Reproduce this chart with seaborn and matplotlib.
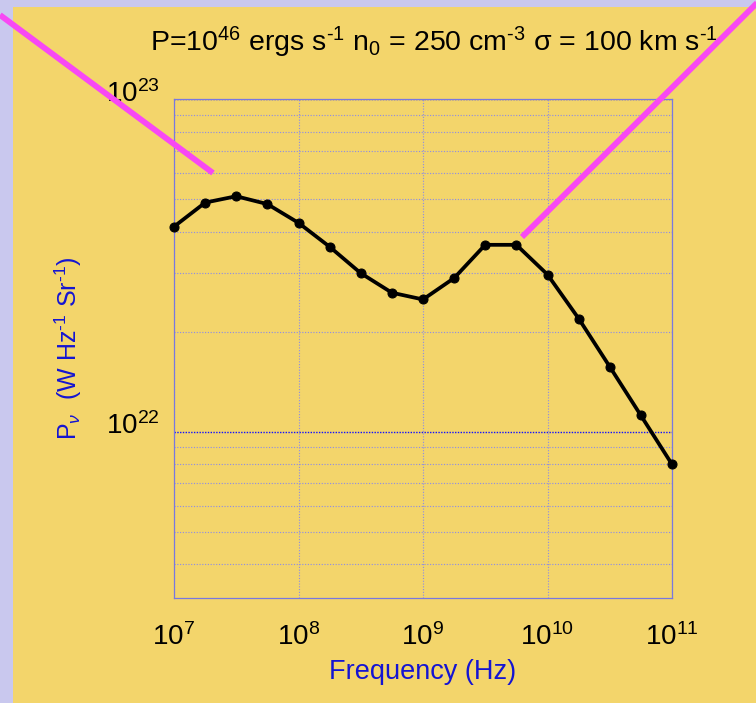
import numpy as np
import pandas as pd
import matplotlib
matplotlib.use("Agg")
import matplotlib.pyplot as plt
import seaborn as sns
from matplotlib.lines import Line2D
from matplotlib.patches import Rectangle
from matplotlib.ticker import LogLocator, FixedLocator, NullFormatter
from matplotlib.transforms import ScaledTranslation

# ---- data ----
freq_hz = [1.0e7, 1.78e7, 3.16e7, 5.62e7, 1.0e8, 1.78e8, 3.16e8, 5.62e8, 1.0e9,
           1.78e9, 3.16e9, 5.62e9, 1.0e10, 1.78e10, 3.16e10, 5.62e10, 1.0e11]
power = [4.14e22, 4.89e22, 5.11e22, 4.84e22, 4.25e22, 3.60e22, 3.00e22, 2.62e22, 2.50e22,
         2.90e22, 3.65e22, 3.65e22, 2.97e22, 2.19e22, 1.57e22, 1.12e22, 7.98e21]
x_ticks = [1e7, 1e8, 1e9, 1e10, 1e11]
x_tick_labels = [r"10$^{7}$", r"10$^{8}$", r"10$^{9}$", r"10$^{10}$", r"10$^{11}$"]
y_ticks = [1e22, 1e23]
y_tick_labels = [r"10$^{22}$", r"10$^{23}$"]
title = "P=10$^{46}$ ergs s$^{\u2010 1}$ n$_{0}$ = 250 cm$^{\u2010 3}$ \u03c3 = 100 km s$^{\u2010 1}$"
xlabel = "Frequency (Hz)"
ylabel = "P$_{\\nu}$  (W Hz$^{\u2010 1}$ Sr$^{\u2010 1}$)"

df = pd.DataFrame({"freq": freq_hz, "power": power})

sns.set_theme(style="white")
plt.rcParams["font.family"] = ["Liberation Sans", "DejaVu Sans"]
plt.rcParams["mathtext.fontset"] = "custom"
plt.rcParams["mathtext.rm"] = "Liberation Sans"
plt.rcParams["mathtext.it"] = "Liberation Sans:italic"
plt.rcParams["mathtext.sf"] = "Liberation Sans"

W, H = 756, 703
fig = plt.figure(figsize=(W / 100, H / 100), dpi=100)
fig.patch.set_facecolor("#c9c8ee")
fig.patches.append(Rectangle((13 / W, 0), 1, 1 - 7 / H, transform=fig.transFigure,
                             facecolor="#f3d56b", edgecolor="none", zorder=-10))

ax = fig.add_axes([174 / W, 1 - 598 / H, (672 - 174) / W, (598 - 99.3) / H])
ax.set_facecolor("none")
ax.set_zorder(1)

ax.set_xscale("log")
ax.set_yscale("log")
ax.set_xlim(1e7, 1e11)
ax.set_ylim(10 ** 21.5, 1e23)

sns.lineplot(data=df, x="freq", y="power", ax=ax, color="black", linewidth=2.7,
             marker="o", markersize=6.5, markeredgecolor="black", zorder=5, clip_on=False)

ax.set_xticks(x_ticks)
ax.set_xticklabels(x_tick_labels)
ax.set_yticks(y_ticks)
ax.set_yticklabels(y_tick_labels)
ax.xaxis.set_minor_locator(FixedLocator([]))
ax.yaxis.set_minor_locator(LogLocator(base=10, subs=np.arange(2, 10)))
ax.yaxis.set_minor_formatter(NullFormatter())
ax.tick_params(axis="both", which="both", length=0, labelsize=20, colors="black")
ax.tick_params(axis="x", pad=18)
ax.tick_params(axis="y", pad=10)
for lab in ax.get_yticklabels():
    lab.set_transform(lab.get_transform() + ScaledTranslation(0, 6 / 72, fig.dpi_scale_trans))

ax.grid(False)
ax.xaxis.grid(True, which="major", color="#8c8ce6", linestyle=(0, (1, 1.5)), linewidth=0.8)
ax.yaxis.grid(True, which="minor", color="#8c8ce6", linestyle=(0, (1, 1.5)), linewidth=0.8)
ax.yaxis.grid(True, which="major", color="#1010ff", linestyle=(0, (1, 1)), linewidth=1.0)

for s in ax.spines.values():
    s.set_color("#7878e0")
    s.set_linewidth(0.9)

ax.set_xlabel(xlabel, color="#1414d2", fontsize=19.5, labelpad=6)
ax.set_ylabel(ylabel, color="#1414d2", fontsize=18, labelpad=16)

fig.text(434 / W, 1 - 42 / H, title, ha="center", va="center", fontsize=20.5, color="black")

# decorative magenta strokes of the slide
mag = "#f848f4"
fig.lines.append(Line2D([0 / W, 213 / W], [1 - 15 / H, 1 - 173 / H], transform=fig.transFigure,
                        color=mag, linewidth=4.2, solid_capstyle="butt", zorder=10))
fig.lines.append(Line2D([522 / W, 762 / W], [1 - 237 / H, 1 - (-2) / H], transform=fig.transFigure,
                        color=mag, linewidth=4.2, solid_capstyle="butt", zorder=10))

fig.savefig("out.png", dpi=100, facecolor=fig.get_facecolor())
